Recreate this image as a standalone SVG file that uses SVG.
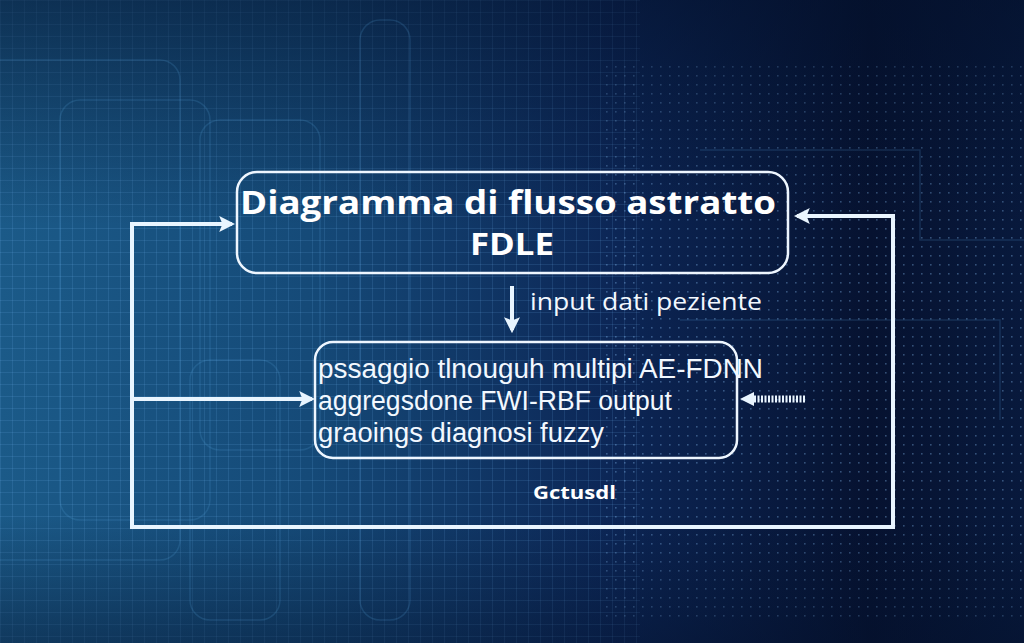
<svg xmlns="http://www.w3.org/2000/svg" width="1024" height="643" viewBox="0 0 1024 643">
<defs>
<linearGradient id="bg" x1="0" y1="0" x2="1" y2="0">
<stop offset="0" stop-color="#1b5a88"/>
<stop offset="0.3" stop-color="#154a78"/>
<stop offset="0.6" stop-color="#0c2656"/>
<stop offset="0.85" stop-color="#061230"/>
<stop offset="1" stop-color="#08193c"/>
</linearGradient>
<linearGradient id="vshade" x1="0" y1="0" x2="0" y2="1">
<stop offset="0" stop-color="#03102a" stop-opacity="0.55"/>
<stop offset="0.35" stop-color="#03102a" stop-opacity="0"/>
<stop offset="0.8" stop-color="#03102a" stop-opacity="0"/>
<stop offset="1" stop-color="#03102a" stop-opacity="0.45"/>
</linearGradient>
<pattern id="grid" width="12" height="12" patternUnits="userSpaceOnUse">
<path d="M0 0.5H12M0.5 0V12" stroke="#7fc4ff" stroke-width="0.6" fill="none" opacity="0.22"/>
</pattern>
<pattern id="dots" width="9" height="9" patternUnits="userSpaceOnUse">
<rect x="3" y="3" width="1.6" height="1.6" fill="#8fc8ff" opacity="0.55"/>
</pattern>
<marker id="ah" markerWidth="4" markerHeight="4" refX="3.2" refY="2" orient="auto" markerUnits="strokeWidth">
<path d="M0 0L4 2L0 4L0.8 2Z" fill="#e9f5ff"/>
</marker>
<style>
.conn{stroke:#e9f5ff;stroke-width:4;fill:none;stroke-linejoin:miter}
.box{fill:none;stroke:#eef6ff;stroke-width:2.5}
.title{font-family:"Open Sans","Noto Sans",sans-serif;font-weight:700;fill:#ffffff}
.lbl{font-family:"Open Sans","Noto Sans",sans-serif;fill:#f2f8ff}
.body{font-family:"Liberation Sans","Noto Sans",sans-serif;fill:#f2f8ff}
.deco{fill:none;stroke:#5aa6e0;stroke-width:1.5;opacity:0.18}
</style>
</defs>
<g id="background">
<rect width="1024" height="643" fill="url(#bg)"/>
<rect width="640" height="643" fill="url(#grid)"/>
<rect x="600" y="60" width="424" height="560" fill="url(#dots)" opacity="0.6"/>
<rect width="1024" height="643" fill="url(#vshade)"/>
<rect class="deco" x="-20" y="60" width="200" height="500" rx="20"/>
<rect class="deco" x="60" y="100" width="150" height="420" rx="20"/>
<rect class="deco" x="200" y="120" width="120" height="330" rx="20"/>
<rect class="deco" x="360" y="20" width="50" height="600" rx="20"/>
<rect class="deco" x="190" y="360" width="90" height="260" rx="20"/>
<path class="deco" d="M700 150H920V240H1024"/>
<path class="deco" d="M680 320H1000V420"/>
</g>
<g id="connectors">
<path class="conn" d="M132 224H232" marker-end="url(#ah)"/>
<path class="conn" d="M132 222V527H893V216H797" marker-end="url(#ah)"/>
<path class="conn" d="M132 399H312" marker-end="url(#ah)"/>
<path class="conn" d="M512 286V330" stroke-width="3" marker-end="url(#ah)"/>
<path d="M805 399H752" stroke="#e9f5ff" stroke-width="7" stroke-dasharray="2 1.5" fill="none"/>
<path d="M754 392L740 399L754 406Z" fill="#e9f5ff"/>
<text class="lbl" x="530" y="310" font-size="24" textLength="232" lengthAdjust="spacingAndGlyphs">input dati peziente</text>
</g>
<g id="node-title">
<rect class="box" x="237" y="172" width="551" height="101" rx="20"/>
<text class="title" x="508" y="214" font-size="32" text-anchor="middle" textLength="536" lengthAdjust="spacingAndGlyphs">Diagramma di flusso astratto</text>
<text class="title" x="512" y="255" font-size="31" text-anchor="middle" textLength="84" lengthAdjust="spacingAndGlyphs">FDLE</text>
</g>
<g id="node-process">
<rect class="box" x="315" y="342" width="422" height="116" rx="18"/>
<text class="body" x="318" y="378" font-size="27" textLength="445" lengthAdjust="spacingAndGlyphs">pssaggio tlnouguh multipi AE-FDNN</text>
<text class="body" x="318" y="410" font-size="27" textLength="354" lengthAdjust="spacingAndGlyphs">aggregsdone FWI-RBF  output</text>
<text class="body" x="318" y="442" font-size="27" textLength="286" lengthAdjust="spacingAndGlyphs">graoings diagnosi fuzzy</text>
</g>
<g id="node-footer">
<text class="title" x="533" y="499" font-size="18" textLength="83" lengthAdjust="spacingAndGlyphs">Gctusdl</text>
</g>
</svg>
